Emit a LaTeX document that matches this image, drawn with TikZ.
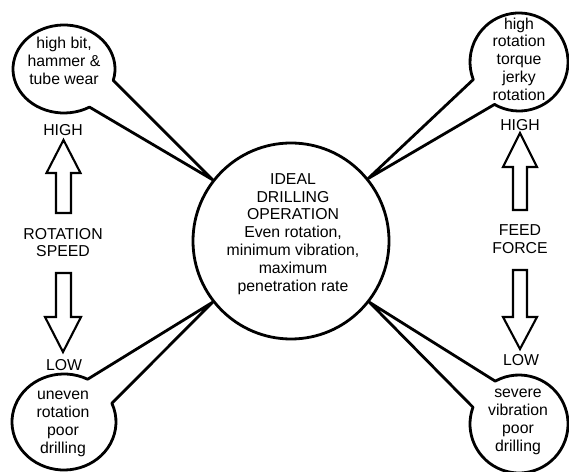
\documentclass[tikz,border=0pt]{standalone}
\usepackage{fontspec}
\setmainfont{Liberation Sans}
\begin{document}
\begin{tikzpicture}[x=1pt,y=1pt,
  lbl/.style={font=\fontsize{15.8}{17.8}\selectfont, align=center, inner sep=0pt},
  outline/.style={line width=2.8pt, line join=round},
  blockarrow/.style={line width=2.1pt, line join=miter}]
\useasboundingbox (0,0) rectangle (569,471);
% central circle
\node[circle, draw, line width=2.8pt, minimum size=196pt, inner sep=0pt] (c) at (291,230) {};
\node[lbl] (ct) at (293,237) {IDEAL\\DRILLING\\OPERATION\\Even rotation,\\minimum vibration,\\maximum\\penetration rate};
% bubble centres
\coordinate (tlc) at (64,402);
\coordinate (trc) at (519,409);
\coordinate (blc) at (64,49);
\coordinate (brc) at (519,47);
% bubbles with tails
\draw[outline] (tlc) ++(-15:51pt and 44pt) arc[start angle=-15,end angle=300,x radius=51pt,y radius=44pt] -- (c.142) -- cycle;
\draw[outline] (trc) ++(240:49pt) arc[start angle=240,end angle=561,radius=49pt] -- (c.39) -- cycle;
\draw[outline] (blc) ++(63:52pt and 48pt) arc[start angle=63,end angle=383,x radius=52pt,y radius=48pt] -- (c.218) -- cycle;
\draw[outline] (brc) ++(160:49pt) arc[start angle=160,end angle=479,radius=49pt] -- (c.322) -- cycle;
% bubble texts
\node[lbl] (tlt) at (64,410) {high bit,\\hammer \&\\tube wear};
\node[lbl] (trt) at (519,412) {high\\rotation\\torque\\jerky\\rotation};
\node[lbl] (blt) at (63,47) {uneven\\rotation\\poor\\drilling};
\node[lbl] (brt) at (518,49) {severe\\vibration\\poor\\drilling};
% block arrows
\draw[blockarrow] (56,258) -- (56,298) -- (46.5,298) -- (63.5,331) -- (80.5,298) -- (71,298) -- (71,258) -- cycle;
\draw[blockarrow] (56,198) -- (56,154) -- (45,154) -- (63,119) -- (81,154) -- (71,154) -- (71,198) -- cycle;
\draw[blockarrow] (513,261) -- (513,304) -- (503,304) -- (520,338) -- (537,304) -- (527,304) -- (527,261) -- cycle;
\draw[blockarrow] (513,201) -- (513,154) -- (503,154) -- (520,122) -- (537,154) -- (527,154) -- (527,201) -- cycle;
% axis labels
\node[lbl] (lhigh) at (63,341) {HIGH};
\node[lbl] (lmid) at (63,228.5) {ROTATION\\SPEED};
\node[lbl] (llow) at (64,106) {LOW};
\node[lbl] (rhigh) at (520,346) {HIGH};
\node[lbl] (rmid) at (520,232) {FEED\\FORCE};
\node[lbl] (rlow) at (521,111) {LOW};
\end{tikzpicture}
\end{document}
